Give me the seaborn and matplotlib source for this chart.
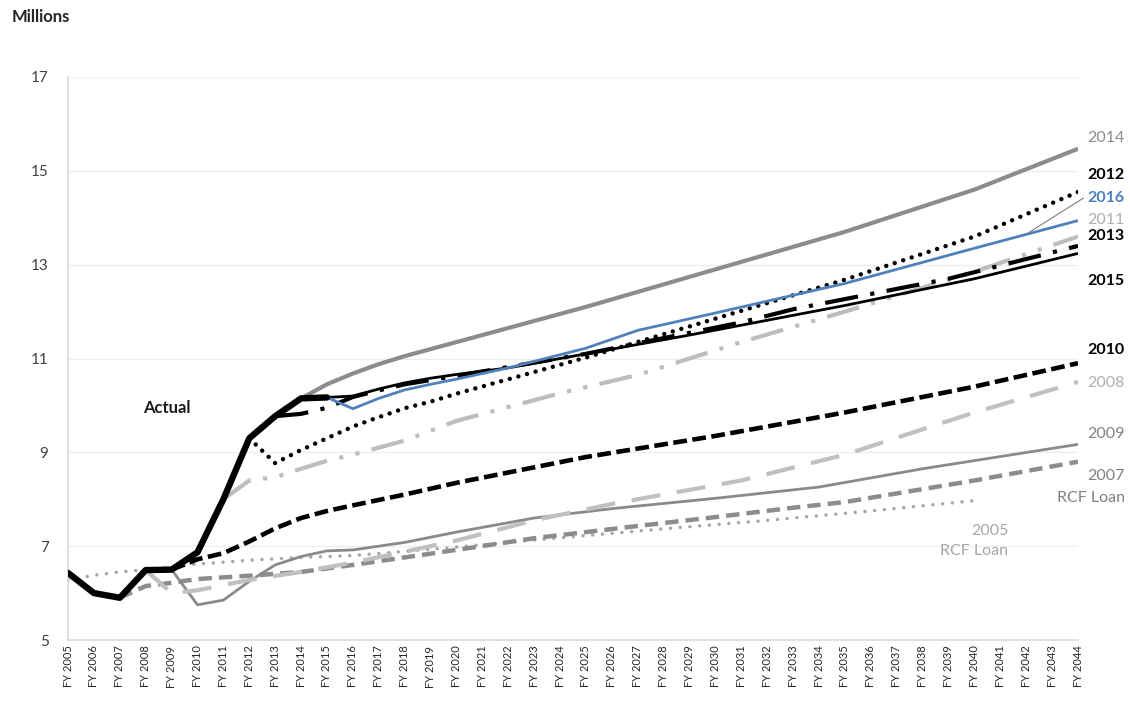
import numpy as np
import pandas as pd
import seaborn as sns
import matplotlib.pyplot as plt

sns.set_theme(style="white")
plt.rcParams['font.family'] = ['Lato', 'DejaVu Sans']

fy_years = list(range(2005, 2045))
tick_labels = ["FY %d" % y for y in fy_years]

# values in millions
years_actual = [2005, 2006, 2007, 2008, 2009, 2010, 2011, 2012, 2013, 2014, 2015]
actual = [6.43, 6.0, 5.9, 6.49, 6.5, 6.87, 8.0, 9.3, 9.77, 10.15, 10.17]

years_2005 = [2005, 2006, 2007, 2008, 2010, 2012, 2014, 2016, 2020, 2023, 2028, 2032, 2036, 2040]
f2005 = [6.28, 6.38, 6.45, 6.5, 6.62, 6.7, 6.76, 6.8, 6.98, 7.13, 7.37, 7.55, 7.75, 7.97]

years_2007 = [2007, 2008, 2009, 2010, 2012, 2014, 2016, 2018, 2020, 2023, 2027, 2030, 2033, 2035, 2040, 2044]
f2007 = [5.9, 6.15, 6.22, 6.3, 6.37, 6.45, 6.6, 6.76, 6.92, 7.17, 7.43, 7.62, 7.82, 7.94, 8.4, 8.8]

years_2008 = [2008, 2009, 2010, 2011, 2012, 2014, 2016, 2018, 2020, 2023, 2026, 2031, 2035, 2040, 2044]
f2008 = [6.49, 6.0, 6.06, 6.17, 6.28, 6.45, 6.65, 6.88, 7.12, 7.55, 7.9, 8.4, 8.95, 9.85, 10.5]

years_2009 = [2009, 2010, 2011, 2012, 2013, 2014, 2015, 2016, 2018, 2020, 2023, 2026, 2030, 2034, 2038, 2044]
f2009 = [6.5, 5.75, 5.85, 6.25, 6.6, 6.78, 6.9, 6.92, 7.08, 7.3, 7.6, 7.8, 8.02, 8.26, 8.65, 9.17]

years_2010 = [2009, 2010, 2011, 2012, 2013, 2014, 2015, 2016, 2018, 2020, 2025, 2030, 2035, 2040, 2044]
f2010 = [6.5, 6.72, 6.85, 7.1, 7.38, 7.6, 7.75, 7.87, 8.1, 8.35, 8.9, 9.35, 9.85, 10.4, 10.9]

years_2011 = [2011, 2012, 2013, 2014, 2015, 2016, 2017, 2018, 2020, 2024, 2027, 2031, 2035, 2040, 2044]
f2011 = [8.0, 8.4, 8.47, 8.65, 8.82, 8.95, 9.1, 9.25, 9.67, 10.26, 10.65, 11.35, 12.0, 12.85, 13.6]

years_2012 = [2012, 2013, 2014, 2015, 2016, 2017, 2018, 2019, 2020, 2025, 2030, 2035, 2040, 2044]
f2012 = [9.3, 8.77, 9.05, 9.3, 9.55, 9.75, 9.94, 10.08, 10.25, 11.02, 11.85, 12.68, 13.6, 14.55]

years_2013 = [2013, 2014, 2015, 2016, 2017, 2018, 2020, 2025, 2031, 2033, 2039, 2044]
f2013 = [9.77, 9.82, 9.95, 10.18, 10.32, 10.45, 10.63, 11.1, 11.77, 12.05, 12.7, 13.4]

years_2014 = [2014, 2015, 2016, 2017, 2018, 2019, 2020, 2025, 2030, 2035, 2040, 2044]
f2014 = [10.15, 10.45, 10.68, 10.88, 11.05, 11.2, 11.35, 12.1, 12.9, 13.7, 14.6, 15.47]

years_2015 = [2015, 2016, 2017, 2018, 2019, 2020, 2022, 2025, 2029, 2035, 2040, 2044]
f2015 = [10.17, 10.2, 10.35, 10.48, 10.58, 10.66, 10.8, 11.1, 11.5, 12.13, 12.7, 13.24]

years_2016 = [2015, 2016, 2017, 2018, 2019, 2020, 2022, 2025, 2027, 2030, 2035, 2040, 2044]
f2016 = [10.17, 9.93, 10.15, 10.33, 10.45, 10.56, 10.8, 11.22, 11.6, 11.97, 12.6, 13.35, 13.94]

# (years, values, color, width, linestyle, capstyle, zorder)
styles = [
    (years_2005, f2005, '#a6a6a6', 2.5, (0, (0.01, 2.8)), 'round', 2),
    (years_2007, f2007, '#8c8c8c', 3.2, (0, (3, 1.6)), 'butt', 2),
    (years_2009, f2009, '#8a8a8a', 2.0, '-', 'butt', 2),
    (years_2008, f2008, '#c0c0c0', 3.0, (0, (7, 4)), 'butt', 2),
    (years_2010, f2010, '#000000', 3.3, (0, (3, 1.2)), 'butt', 3),
    (years_2011, f2011, '#bdbdbd', 3.0, (0, (8, 3, 1, 3, 1, 3)), 'butt', 3),
    (years_2014, f2014, '#8c8c8c', 3.0, '-', 'butt', 3),
    (years_2012, f2012, '#000000', 3.2, (0, (0.01, 2.0)), 'round', 4),
    (years_2013, f2013, '#000000', 3.0, (0, (8, 3, 1, 3)), 'butt', 4),
    (years_2015, f2015, '#000000', 2.0, '-', 'butt', 4),
    (years_2016, f2016, '#4f81bd', 2.0, '-', 'butt', 5),
]

fig = plt.figure(figsize=(11.3, 7.01), dpi=100)
ax = fig.add_axes([68 / 1130, 61 / 701, 1010 / 1130, 563 / 701])

for yrs, vals, col, lw, ls, cap, z in styles:
    sns.lineplot(x=yrs, y=vals, ax=ax, color=col, linewidth=lw, linestyle=ls,
                 dash_capstyle=cap, solid_capstyle='butt', zorder=z,
                 estimator=None, sort=False)

sns.lineplot(x=years_actual, y=actual, ax=ax, color='black', linewidth=4.6,
             zorder=6, estimator=None, sort=False)

ax.set_xlim(2005, 2044)
ax.set_ylim(5, 17)
ax.set_xticks(fy_years)
ax.set_xticklabels(tick_labels, rotation=90, fontsize=8, color='#262626')
ax.set_yticks([5, 7, 9, 11, 13, 15, 17])
ax.tick_params(axis='y', labelsize=11, labelcolor='#404040', pad=14, length=0)
ax.tick_params(axis='x', length=0, pad=4)
ax.grid(axis='y', color='#eeeeee', linewidth=0.9)
ax.set_axisbelow(True)
for side in ['top', 'right']:
    ax.spines[side].set_visible(False)
ax.spines['left'].set_color('#dcdcdc')
ax.spines['bottom'].set_color('#dcdcdc')
ax.set_xlabel('')
ax.set_ylabel('')

fig.text(12 / 1130, 1 - 17 / 701, 'Millions', fontsize=12, fontweight='bold',
         va='center', ha='left', color='#262626')

# end-of-line labels
end_labels = [
    ('2014', 15.70, '#8c8c8c', 'normal'),
    ('2012', 14.91, '#000000', 'bold'),
    ('2016', 14.43, '#4f81bd', 'bold'),
    ('2011', 13.96, '#b0b0b0', 'normal'),
    ('2013', 13.62, '#000000', 'bold'),
    ('2015', 12.66, '#000000', 'bold'),
    ('2010', 11.19, '#000000', 'bold'),
    ('2008', 10.47, '#b0b0b0', 'normal'),
    ('2009', 9.40, '#808080', 'normal'),
    ('2007', 8.49, '#808080', 'normal'),
    ('RCF Loan', 8.02, '#808080', 'normal'),
]
for txt, yv, col, wt in end_labels:
    ax.text(2045.8, yv, txt, ha='right', va='center', fontsize=11.5,
            color=col, fontweight=wt, clip_on=False)

ax.text(2040.6, 7.32, '2005', ha='center', va='center', fontsize=11.5, color='#a6a6a6')
ax.text(2040.0, 6.89, 'RCF Loan', ha='center', va='center', fontsize=11.5, color='#a6a6a6')
ax.text(2008.8, 9.94, 'Actual', ha='center', va='center', fontsize=12,
        fontweight='bold', color='#1a1a1a')

ax.annotate('', xy=(2042, 13.65), xytext=(2044.3, 14.45),
            arrowprops=dict(arrowstyle='-', color='#7f7f7f', lw=0.8))

fig.savefig('out.png', dpi=100)
